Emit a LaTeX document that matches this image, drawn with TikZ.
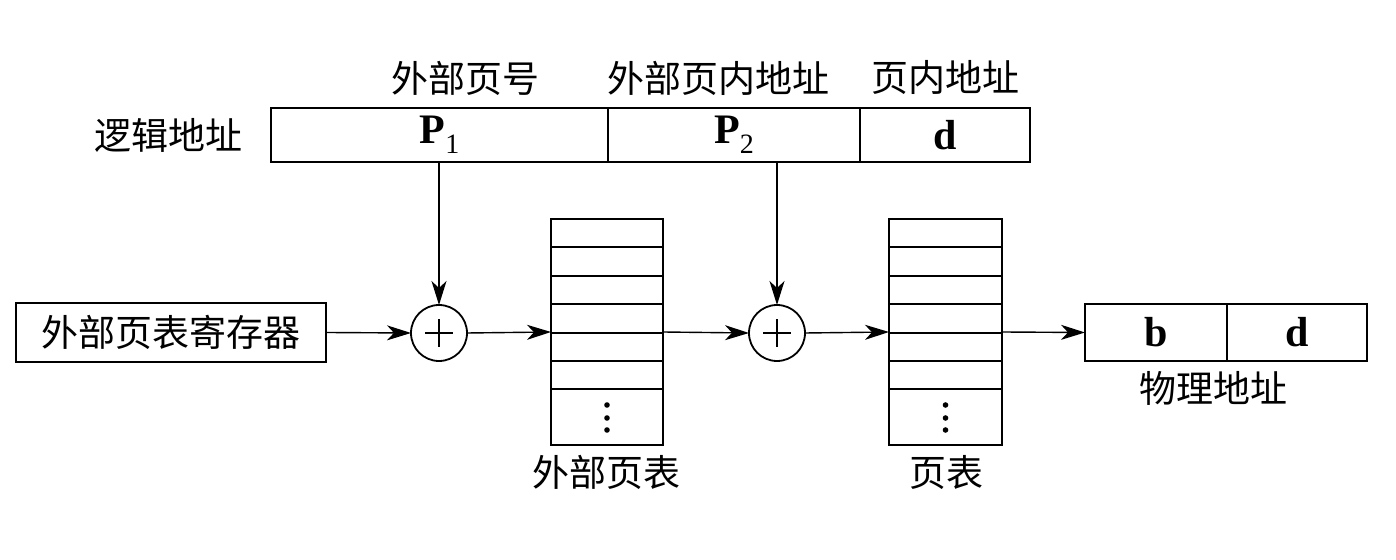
\documentclass[tikz,border=0pt]{standalone}
\usepackage{fontspec}
\setmainfont{Liberation Serif}
\newfontfamily\cjk{Noto Sans CJK SC}
\usetikzlibrary{arrows.meta}
\begin{document}
\begin{tikzpicture}[x=0.5pt,y=-0.5pt,
  box/.style={draw,line width=1pt,inner sep=0pt,outer sep=0pt,minimum height=27pt,font=\bfseries\fontsize{21}{24}\selectfont},
  lbl/.style={inner sep=0pt,font=\cjk\fontsize{18.5}{20}\selectfont},
  tbl/.style={draw,line width=1pt,inner sep=0pt,outer sep=0pt,minimum width=56pt,minimum height=113pt},
  adder/.style={draw,circle,line width=0.9pt,inner sep=0pt,outer sep=0pt,minimum size=28pt},
  conn/.style={line width=0.7pt,-{Stealth[length=12pt,width=7.5pt,inset=3.5pt]}}]
\useasboundingbox (0,0) rectangle (1396,560);
% logical address
\node[box,minimum width=168.5pt] (la1) at (439.5,135) {P\raisebox{-0.5ex}{\mdseries\fontsize{14}{14}\selectfont 1}};
\node[box,minimum width=126pt] (la2) at (734,135) {P\raisebox{-0.5ex}{\mdseries\fontsize{14}{14}\selectfont 2}};
\node[box,minimum width=85pt] (la3) at (945,135) {d};
\node[lbl] (lbl1) at (465,78) {外部页号};
\node[lbl] (lbl2) at (718,78) {外部页内地址};
\node[lbl] (lbl3) at (945,78) {页内地址};
\node[lbl] (lbllog) at (168,135) {逻辑地址};
% register
\node[lbl,draw,line width=1pt,minimum width=155pt,minimum height=29.5pt] (reg) at (171,332.5) {外部页表寄存器};
% adders
\node[adder] (add1) at (439,333) {};
\node[adder] (add2) at (777,333) {};
\foreach \a in {add1,add2}{
  \draw[line width=0.6pt] ([xshift=-7pt]\a.center) -- ([xshift=7pt]\a.center);
  \draw[line width=0.6pt] ([yshift=-7pt]\a.center) -- ([yshift=7pt]\a.center);
}
% tables
\node[tbl] (t1) at (607,332) {};
\node[tbl,minimum width=56.5pt] (t2) at (945.5,332) {};
\foreach \t in {t1,t2}{
  \foreach \yy in {28,57,85,114,142,170}{
    \draw[line width=1pt] ([yshift=-\yy*0.5pt]\t.north west) -- ([yshift=-\yy*0.5pt]\t.north east);
  }
  \foreach \yy in {186,199,211}{
    \fill ([yshift=-\yy*0.5pt]\t.north) circle (1.4pt);
  }
}
\node[lbl] (lt1) at (606,472) {外部页表};
\node[lbl] (lt2) at (946,472) {页表};
% physical address
\node[box,minimum width=71pt,minimum height=28.5pt] (pb) at (1156,332.5) {b};
\node[box,minimum width=70pt,minimum height=28.5pt] (pd) at (1297,332.5) {d};
\node[lbl] (lphys) at (1213,388) {物理地址};
% connectors
\draw[conn] (la1.south -| add1.north) -- (add1.north);
\draw[conn] (la2.south -| add2.north) -- (add2.north);
\draw[conn] (reg.east) -- (add1.west);
\draw[conn] (add1.east) -- (t1.west);
\draw[conn] (t1.east) -- (add2.west);
\draw[conn] (add2.east) -- (t2.west);
\draw[conn] (t2.east) -- (pb.west);
\end{tikzpicture}
\end{document}
